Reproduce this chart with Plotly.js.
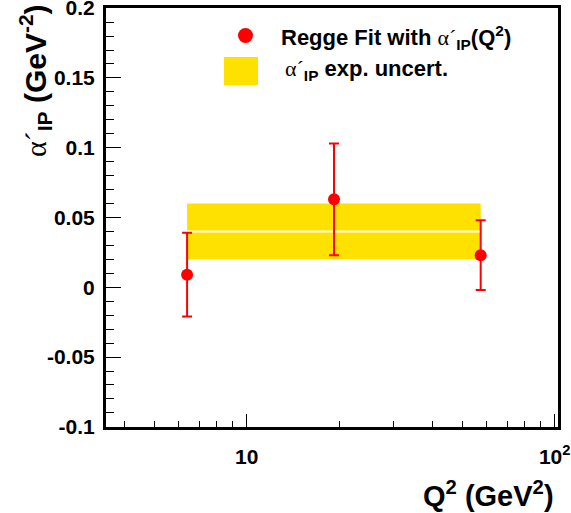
<!DOCTYPE html>
<html>
<head>
<meta charset="utf-8">
<script src="https://cdn.plot.ly/plotly-3.0.1.min.js"></script>
<style>html,body{margin:0;padding:0;background:#fff;}</style>
</head>
<body>
<div id="chart" style="width:571px;height:513px;"></div>
<script>
// Data
var q2 = [6.4, 19.2, 57.5];
var alphaP = [0.009, 0.063, 0.023];
var alphaErr = [0.030, 0.040, 0.025];
var bandX = [6.4, 57.5];
var bandLow = 0.02;
var bandHigh = 0.06;
var bandCentral = 0.04;
var yTickVals = [-0.1, -0.05, 0, 0.05, 0.1, 0.15, 0.2];
var yTickText = ['-0.1', '-0.05', '0', '0.05', '0.1', '0.15', '0.2'];
var xTickVals = [10, 100];
var xTickText = ['10', '10<sup>2</sup>'];
var xMinorVals = [4, 5, 6, 7, 8, 9, 20, 30, 40, 50, 60, 70, 80, 90];

var W = 571, H = 513, L = 106, R = 13, T = 8, B = 86;
var pw = W - L - R, ph = H - T - B;
function px(x) { return (x - L) / pw; }
function py(y) { return (H - B - y) / ph; }

var FONT = 'Liberation Sans, Arial, sans-serif';
var ALPHA = '<span style="font-weight:normal;font-family:Liberation Serif">α´</span>';

var traces = [
  {
    x: [bandX[0], bandX[1], bandX[1], bandX[0], bandX[0]],
    y: [bandLow, bandLow, bandHigh, bandHigh, bandLow],
    type: 'scatter', mode: 'lines', fill: 'toself',
    fillcolor: '#ffe100', line: {width: 0, color: '#ffe100'},
    hoverinfo: 'skip', showlegend: false
  },
  {
    x: bandX,
    y: [bandCentral, bandCentral],
    type: 'scatter', mode: 'lines',
    line: {width: 2, color: '#ffffff'},
    hoverinfo: 'skip', showlegend: false
  },
  {
    x: q2, y: alphaP,
    type: 'scatter', mode: 'markers',
    marker: {color: '#ff0000', size: 12},
    error_y: {type: 'data', array: alphaErr, visible: true, color: '#ff0000', thickness: 2, width: 5},
    showlegend: false
  }
];

var layout = {
  width: W, height: H,
  margin: {l: L, r: R, t: T, b: B},
  paper_bgcolor: '#fff', plot_bgcolor: '#fff',
  showlegend: false,
  font: {family: FONT, color: '#000'},
  xaxis: {
    type: 'log',
    range: [Math.log10(3.49), Math.log10(102.5)],
    tickmode: 'array', tickvals: xTickVals, ticktext: xTickText,
    ticks: 'inside', ticklen: 13, tickwidth: 1, tickcolor: '#000',
    ticklabelstandoff: 9, ticklabeloverflow: 'allow',
    minor: {tickmode: 'array', tickvals: xMinorVals, ticks: 'inside', ticklen: 6, tickwidth: 1, tickcolor: '#000', showgrid: false},
    tickfont: {family: FONT, size: 21, weight: 'bold', color: '#000'},
    showline: true, linewidth: 3, linecolor: '#000', mirror: true,
    showgrid: false, zeroline: false
  },
  yaxis: {
    range: [-0.1001, 0.2001],
    tickmode: 'array', tickvals: yTickVals, ticktext: yTickText,
    ticks: 'inside', ticklen: 15, tickwidth: 1, tickcolor: '#000',
    ticklabelstandoff: 4, ticklabeloverflow: 'allow',
    minor: {dtick: 0.01, ticks: 'inside', ticklen: 8, tickwidth: 1, tickcolor: '#000', showgrid: false},
    tickfont: {family: FONT, size: 21, weight: 'bold', color: '#000'},
    showline: true, linewidth: 3, linecolor: '#000', mirror: true,
    showgrid: false, zeroline: false
  },
  shapes: [
    {type: 'circle', xref: 'paper', yref: 'paper',
     x0: px(238), x1: px(253), y0: py(43), y1: py(28),
     fillcolor: '#ff0000', line: {width: 0}},
    {type: 'rect', xref: 'paper', yref: 'paper',
     x0: px(224), x1: px(258), y0: py(85), y1: py(57),
     fillcolor: '#ffe100', line: {width: 0}}
  ],
  annotations: [
    {xref: 'paper', yref: 'paper', x: px(279), y: py(37), xanchor: 'left', yanchor: 'middle',
     text: 'Regge Fit with ' + ALPHA + '<sub>IP</sub>(Q<sup>2</sup>)', showarrow: false,
     font: {family: FONT, size: 22, weight: 'bold', color: '#000'}},
    {xref: 'paper', yref: 'paper', x: px(283), y: py(70), xanchor: 'left', yanchor: 'middle',
     text: ALPHA + '<sub>IP</sub> exp. uncert.', showarrow: false,
     font: {family: FONT, size: 22, weight: 'bold', color: '#000'}},
    {xref: 'paper', yref: 'paper', x: px(35), y: py(81), xanchor: 'center', yanchor: 'middle',
     textangle: -90,
     text: ALPHA + '<sub>IP</sub> (GeV<sup>-2</sup>)', showarrow: false,
     font: {family: FONT, size: 30, weight: 'bold', color: '#000'}},
    {xref: 'paper', yref: 'paper', x: px(556), y: py(494), xanchor: 'right', yanchor: 'middle',
     text: 'Q<sup>2</sup> (GeV<sup>2</sup>)', showarrow: false,
     font: {family: FONT, size: 29, weight: 'bold', color: '#000'}}
  ]
};

Plotly.newPlot('chart', traces, layout, {displayModeBar: false, staticPlot: true});
</script>
</body>
</html>
